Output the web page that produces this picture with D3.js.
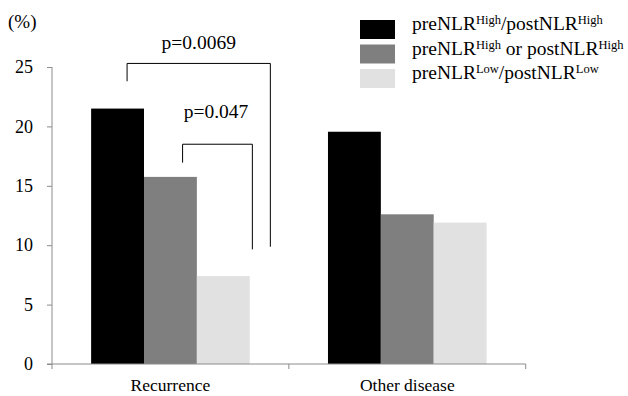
<!DOCTYPE html>
<html><head><meta charset="utf-8">
<script src="https://cdn.jsdelivr.net/npm/d3@7"></script>
<style>
body{margin:0;background:#fff;}
svg text{font-family:"Liberation Serif","Times New Roman",Times,serif !important;fill:#000;}
</style></head>
<body>
<svg id="c" width="628" height="396"></svg>
<script>
const categories = ["Recurrence", "Other disease"];
const seriesNames = ["hh", "ho", "ll"];
const seriesColors = ["#000000", "#7f7f7f", "#e1e1e1"];
const valuesHH = [21.5, 19.55];
const valuesHO = [15.75, 12.6];
const valuesLL = [7.4, 11.9];
const yTicks = [0, 5, 10, 15, 20, 25];
const pLabels = ["p=0.0069", "p=0.047"];

const SERIF = "'Liberation Serif', 'Times New Roman', serif";
const svg = d3.select("#c").attr("font-family", SERIF);
const x0 = d3.scaleBand().domain(categories).range([52, 525.7]).paddingInner(0).paddingOuter(0);
const x1 = d3.scaleBand().domain(seriesNames).range([0, x0.bandwidth()]).paddingInner(0).paddingOuter(0.74);
const y = d3.scaleLinear().domain([0, 25]).range([364, 67]);
const axisColor = "#8c8c8c";

const valuesBySeries = [valuesHH, valuesHO, valuesLL];

// bars
categories.forEach((cat, ci) => {
  seriesNames.forEach((s, si) => {
    const v = valuesBySeries[si][ci];
    svg.append("rect")
      .attr("x", x0(cat) + x1(s))
      .attr("y", y(v))
      .attr("width", x1.bandwidth())
      .attr("height", y(0) - y(v))
      .attr("fill", seriesColors[si]);
  });
});

// y axis
const yAxis = d3.axisLeft(y).tickValues(yTicks).tickSize(5).tickPadding(14);
const gy = svg.append("g").attr("transform", "translate(52,0)").call(yAxis);
gy.attr("font-family", SERIF).attr("font-size", 18);
gy.select(".domain").attr("stroke", axisColor).attr("d", "M0,67V364");
gy.selectAll(".tick line").attr("stroke", axisColor);
gy.selectAll(".tick text").attr("font-family", SERIF).style("font-size", "18px").attr("fill", "#000");

// x axis
svg.append("line").attr("x1", 47).attr("x2", 525.7).attr("y1", y(0)).attr("y2", y(0)).attr("stroke", axisColor);
const bounds = [x0(categories[0]), x0(categories[1]), x0(categories[1]) + x0.bandwidth()];
bounds.forEach(b => svg.append("line").attr("x1", b).attr("x2", b).attr("y1", y(0)).attr("y2", y(0) + 5).attr("stroke", axisColor));
categories.forEach(cat => {
  svg.append("text").attr("x", x0(cat) + x0.bandwidth() / 2).attr("y", 391)
    .attr("font-family", SERIF)
    .attr("text-anchor", "middle").style("font-size", "17.5px").text(cat);
});

// unit label
svg.append("text").attr("x", 8).attr("y", 28).attr("font-family", SERIF).style("font-size", "19px").text("(%)");

// brackets
const bx = (cat, s, frac) => x0(cat) + x1(s) + frac * x1.bandwidth();
const brackets = [
  {x1: bx("Recurrence", "hh", 0.68), x2: bx("Recurrence", "ll", 1.39), top: 25.3, l: 23.8, r: 9.87, label: pLabels[0], ly: 26.5},
  {x1: bx("Recurrence", "ho", 0.73), x2: bx("Recurrence", "ll", 1.05), top: 18.5, l: 16.95, r: 9.65, label: pLabels[1], ly: 20.7}
];
brackets.forEach((b, i) => {
  svg.append("path")
    .attr("d", `M${b.x1},${y(b.l)}V${y(b.top)}H${b.x2}V${y(b.r)}`)
    .attr("fill", "none").attr("stroke", "#000").attr("stroke-width", 1);
  const cx = i === 0 ? (b.x1 + b.x2) / 2 : (b.x1 + b.x2) / 2 - 1.5;
  svg.append("text").attr("x", cx).attr("y", y(b.ly))
    .attr("font-family", SERIF)
    .attr("text-anchor", "middle").style("font-size", "19.5px").text(b.label);
});

// legend
const legendRows = [
  [["preNLR", ""], ["High", "sup"], ["/postNLR", ""], ["High", "sup"]],
  [["preNLR", ""], ["High", "sup"], [" or postNLR", ""], ["High", "sup"]],
  [["preNLR", ""], ["Low", "sup"], ["/postNLR", ""], ["Low", "sup"]]
];
const rowY = [20, 44.5, 69];
legendRows.forEach((row, i) => {
  svg.append("rect").attr("x", 360).attr("y", rowY[i]).attr("width", 35).attr("height", 19).attr("fill", seriesColors[i]);
  const t = svg.append("text").attr("x", 412).attr("y", rowY[i] + 10).attr("font-family", SERIF).style("font-size", "19.5px");
  row.forEach(([str, kind]) => {
    const ts = t.append("tspan").text(str);
    if (kind === "sup") ts.style("font-size", "12.5px").attr("dy", -6);
    else ts.attr("dy", ts.node().previousSibling ? 6 : 0);
  });
});
</script>
</body></html>
